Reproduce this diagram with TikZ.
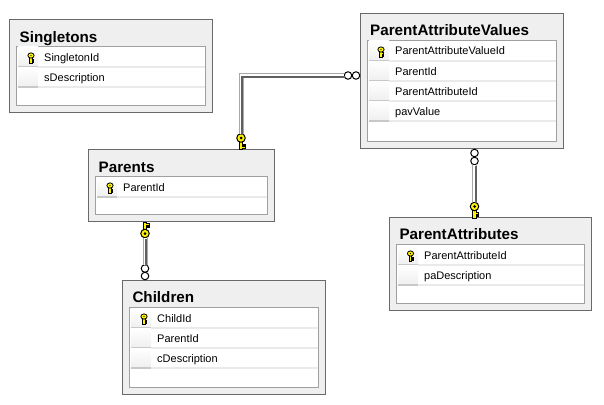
\documentclass[tikz,border=0pt]{standalone}
\usepackage{fontspec}
\setmainfont{Liberation Sans}
\definecolor{boxfill}{HTML}{EFEFEF}
\definecolor{boxline}{HTML}{696969}
\definecolor{gridline}{HTML}{A0A0A0}
\definecolor{rowrule}{HTML}{EAEAEA}
\definecolor{selrule}{HTML}{C8C8C8}
\definecolor{linklight}{HTML}{A8A8A8}
\definecolor{linkdark}{HTML}{606060}
\definecolor{keyyellow}{HTML}{FFF200}
\tikzset{
    tablebox/.style={draw=boxline, fill=boxfill, line width=1pt, anchor=north west, inner sep=0pt, outer sep=0pt},
    gridbox/.style={draw=gridline, fill=white, line width=1pt, anchor=north west, inner sep=0pt, outer sep=0pt},
    tabletitle/.style={anchor=base west, inner sep=0pt, font=\fontsize{15.2}{17}\selectfont\bfseries},
    rowcell/.style={anchor=west, inner sep=0pt, text width=#1, minimum height=20pt, text height=9pt, text depth=1pt,
        font=\fontsize{11}{13}\selectfont, execute at begin node={\hspace*{6pt}},
        path picture={\draw[rowrule, line width=2pt] (path picture bounding box.south west) -- (path picture bounding box.south east);}},
    rowsel/.style={anchor=west, inner sep=0pt, minimum width=20pt, minimum height=20pt, top color=white, bottom color=boxfill,
        path picture={\draw[selrule, line width=2pt] (path picture bounding box.south west) -- (path picture bounding box.south east);}},
    link/.style={draw=linklight, line width=5pt,
        postaction={draw=white, line width=3pt},
        postaction={draw=linkdark, line width=2pt, transform canvas={shift={(1pt,-1pt)}}}},
    ring/.style={circle, draw=black, fill=white, line width=1pt, minimum size=7.5pt, inner sep=0pt, outer sep=0pt},
    keyhead/.style={circle, draw=black, fill=keyyellow, line width=1pt, minimum size=8.5pt, inner sep=0pt, outer sep=0pt},
    fkey/.pic={
        \draw[fill=keyyellow, line width=.8pt] (-2,3) -- (-2,11.5) -- (1.5,11.5) -- (1.5,10) -- (4,10) -- (4,8.5)
            -- (1.5,8.5) -- (1.5,7.5) -- (4,7.5) -- (4,6) -- (1.5,6) -- (1.5,3) -- cycle;
        \node[keyhead] (-head) at (0,0) {};
        \fill (0,0) circle (1.5pt);
    },
    rowkey/.pic={
        \draw[fill=keyyellow, line width=.8pt] (-1.2,2) -- (-1.2,7.8) -- (1,7.8) -- (1,6.8) -- (2.8,6.8) -- (2.8,5.6) -- (1,5.6)
            -- (1,4.6) -- (2.8,4.6) -- (2.8,3.4) -- (1,3.4) -- (1,2) -- cycle;
        \draw[fill=keyyellow, line width=.8pt] (0,0) ellipse (3.1pt and 2.6pt);
        \fill (0,0) circle (.7pt);
    }
}
\begin{document}
\begin{tikzpicture}[x=1pt, y=-1pt]
    \useasboundingbox[fill=white] (0,0) rectangle (604,404);

    % Singletons
    \node[tablebox, minimum width=203pt, minimum height=92.5pt] at (9.5,19.5) (singletons) {};
    \node[tabletitle] at (19.5,42) (singletons_title) {Singletons};
    \node[gridbox, minimum width=189pt, minimum height=59pt] at (16.5,46.5) (singletons_grid) {};
    \node[rowsel] at (18,57) (singletons_sel1) {};
    \node[rowsel] at (18,77) (singletons_sel2) {};
    \node[rowcell=167pt] at (38,57) (singletonid) {SingletonId};
    \node[rowcell=167pt] at (38,77) (sdescription) {sDescription};
    \pic at (31,55.5) {rowkey};

    % ParentAttributeValues
    \node[tablebox, minimum width=203pt, minimum height=134.5pt] at (360.5,13.5) (pav) {};
    \node[tabletitle] at (370,35.5) (pav_title) {ParentAttributeValues};
    \node[gridbox, minimum width=189pt, minimum height=100.5pt] at (367.5,40.5) (pav_grid) {};
    \node[rowsel] at (369,51) (pav_sel1) {};
    \node[rowsel] at (369,71) (pav_sel2) {};
    \node[rowsel] at (369,91) (pav_sel3) {};
    \node[rowsel] at (369,111) (pav_sel4) {};
    \node[rowcell=167pt] at (389,51) (pavid) {ParentAttributeValueId};
    \node[rowcell=167pt] at (389,71) (pav_parentid) {ParentId};
    \node[rowcell=167pt] at (389,91) (pav_paid) {ParentAttributeId};
    \node[rowcell=167pt] at (389,111) (pavvalue) {pavValue};
    \pic at (381,49.5) {rowkey};

    % Parents
    \node[tablebox, minimum width=186pt, minimum height=72pt] at (88.5,149.5) (parents) {};
    \node[tabletitle] at (98.5,172) (parents_title) {Parents};
    \node[gridbox, minimum width=172pt, minimum height=37.5pt] at (95.5,176.5) (parents_grid) {};
    \node[rowsel] at (97,187) (parents_sel1) {};
    \node[rowcell=150pt] at (117,187) (parentid) {ParentId};
    \pic at (110,185.5) {rowkey};

    % Children
    \node[tablebox, minimum width=203pt, minimum height=114pt] at (122.5,280.5) (children) {};
    \node[tabletitle] at (132.3,302.5) (children_title) {Children};
    \node[gridbox, minimum width=189pt, minimum height=79.5pt] at (129.5,307.5) (children_grid) {};
    \node[rowsel] at (131,318) (children_sel1) {};
    \node[rowsel] at (131,338) (children_sel2) {};
    \node[rowsel] at (131,358) (children_sel3) {};
    \node[rowcell=167pt] at (151,318) (childid) {ChildId};
    \node[rowcell=167pt] at (151,338) (children_parentid) {ParentId};
    \node[rowcell=167pt] at (151,358) (cdescription) {cDescription};
    \pic at (144,316.5) {rowkey};

    % ParentAttributes
    \node[tablebox, minimum width=202pt, minimum height=93pt] at (389.5,217.5) (pa) {};
    \node[tabletitle] at (399.3,239.5) (pa_title) {ParentAttributes};
    \node[gridbox, minimum width=188pt, minimum height=59pt] at (396.5,244.5) (pa_grid) {};
    \node[rowsel] at (398,255) (pa_sel1) {};
    \node[rowsel] at (398,275) (pa_sel2) {};
    \node[rowcell=166pt] at (418,255) (paid) {ParentAttributeId};
    \node[rowcell=166pt] at (418,275) (padescription) {paDescription};
    \pic at (410.5,253.5) {rowkey};

    % relationships
    \pic (fk_parents) at (241,138) {fkey};
    \node[ring] at (348,75.5) (ring_pav_a) {};
    \node[ring] at (356,75.5) (ring_pav_b) {};
    \draw[link] (fk_parents-head) |- (ring_pav_a);

    \pic[yscale=-1] (fk_children) at (145,233.5) {fkey};
    \node[ring] at (145,268.5) (ring_children_a) {};
    \node[ring] at (145,276) (ring_children_b) {};
    \draw[link] (fk_children-head) -- (ring_children_a);

    \pic (fk_pa) at (474.5,206.5) {fkey};
    \node[ring] at (474.5,161) (ring_pa_a) {};
    \node[ring] at (474.5,153) (ring_pa_b) {};
    \draw[link] (fk_pa-head) -- (ring_pa_a);
\end{tikzpicture}
\end{document}
